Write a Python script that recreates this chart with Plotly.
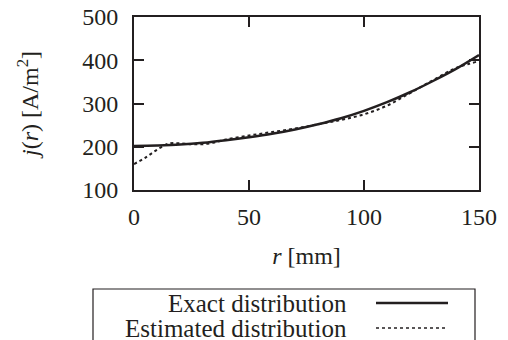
import plotly.graph_objects as go

r_exact = [0, 10, 20, 30, 40, 50, 60, 70, 80, 90, 100, 110, 120, 130, 140, 150]
j_exact = [202, 203, 205, 209, 215, 222, 230, 240, 252, 266, 283, 303, 326, 352, 380, 412]

r_est = [0, 5, 10, 15, 20, 25, 30, 35, 40, 50, 60, 70, 80, 90, 100, 110, 120, 130, 140, 150]
j_est = [160, 175, 193, 207, 208, 206, 206, 210, 217, 226, 234, 242, 252, 262, 275, 295, 324, 354, 382, 398]

x_ticks = [0, 50, 100, 150]
y_ticks = [100, 200, 300, 400, 500]

series_names = ["Exact distribution", "Estimated distribution"]

FONT = "Liberation Serif"
INK = "#231f20"
FS = 24
FS_LEG = 25

fig = go.Figure()
fig.add_trace(go.Scatter(x=r_exact, y=j_exact, mode="lines", name=series_names[0],
                         line=dict(color=INK, width=2.5), line_shape="spline", showlegend=False))
fig.add_trace(go.Scatter(x=r_est, y=j_est, mode="lines", name=series_names[1],
                         line=dict(color=INK, width=2, dash="dot"), line_shape="spline", showlegend=False))

axis_common = dict(showgrid=False, zeroline=False, showline=True, linecolor=INK, linewidth=2,
                   mirror="allticks", ticks="inside", ticklen=10, tickwidth=1.5, tickcolor=INK,
                   automargin=False,
                   tickfont=dict(family=FONT, size=FS, color=INK))

fig.update_xaxes(range=[0, 150], tickvals=x_ticks, ticklabelstandoff=4,
                 title=dict(text="<i>r</i> [mm]", font=dict(family=FONT, size=FS, color=INK), standoff=18),
                 **axis_common)
fig.update_yaxes(range=[100, 500], tickvals=y_ticks, ticklabelstandoff=9,
                 title=dict(text="<i>j</i>(<i>r</i>) [A/m<sup>2</sup>]", font=dict(family=FONT, size=FS, color=INK), standoff=37),
                 **axis_common)

# Manual legend (text left of sample line, as in the reference)
fig.add_shape(type="rect", xref="paper", yref="paper", x0=(93-134)/345, x1=(475-134)/345,
              y0=(190-345)/173, y1=(190-289)/173, line=dict(color=INK, width=1.2), fillcolor="rgba(0,0,0,0)")
for i, (name, dash, w) in enumerate([(series_names[0], "solid", 2.5), (series_names[1], "dot", 1.5)]):
    ypix = 303 + 25 * i
    yp = (190 - ypix) / 173
    fig.add_annotation(xref="paper", yref="paper", x=(349-134)/345, y=yp, text=name, showarrow=False,
                       xanchor="right", yanchor="middle", font=dict(family=FONT, size=FS_LEG, color=INK))
    fig.add_shape(type="line", xref="paper", yref="paper", x0=(376-134)/345, x1=(448-134)/345,
                  y0=yp, y1=yp, line=dict(color=INK, width=w, dash=dash))

fig.update_layout(width=508, height=340, margin=dict(l=134, r=29, t=17, b=150),
                  plot_bgcolor="white", paper_bgcolor="white",
                  font=dict(family=FONT, color=INK))
fig.write_html("out.html", config={"displayModeBar": False},
               post_script="document.body.style.margin='0';document.body.style.overflow='hidden';")
